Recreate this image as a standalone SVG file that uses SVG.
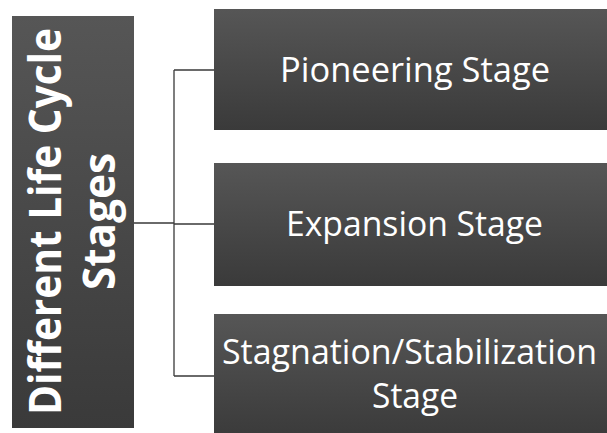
<svg xmlns="http://www.w3.org/2000/svg" width="607" height="433" viewBox="0 0 607 433">
<defs>
<linearGradient id="g" x1="0" y1="0" x2="0" y2="1">
<stop offset="0" stop-color="#565656"/>
<stop offset="1" stop-color="#3a3a3a"/>
</linearGradient>
<style>
.box{fill:url(#g);}
.t{font-family:"Open Sans","Noto Sans",sans-serif;fill:#ffffff;font-size:34px;text-anchor:middle;}
.tb{font-family:"Open Sans","Noto Sans",sans-serif;fill:#ffffff;font-size:45px;font-weight:bold;text-anchor:middle;}
.c{fill:none;stroke:#3a3a3a;stroke-width:1.3;}
</style>
</defs>
<rect width="607" height="433" fill="#ffffff"/>
<g id="connectors">
<path class="c" d="M134 223 H174 M174 70 V376 M174 70 H214 M174 224 H214 M174 376 H214"/>
</g>
<g id="root">
<rect class="box" x="12" y="16" width="122" height="412"/>
<text class="tb" transform="translate(61 221.5) rotate(-90)" textLength="387" lengthAdjust="spacingAndGlyphs">Different Life Cycle</text>
<text class="tb" transform="translate(115 221.5) rotate(-90)" textLength="137" lengthAdjust="spacingAndGlyphs">Stages</text>
</g>
<g id="pioneering">
<rect class="box" x="214" y="9" width="400" height="121"/>
<text class="t" x="415" y="82" textLength="270" lengthAdjust="spacingAndGlyphs">Pioneering Stage</text>
</g>
<g id="expansion">
<rect class="box" x="214" y="163" width="400" height="123"/>
<text class="t" x="414.5" y="236" textLength="257" lengthAdjust="spacingAndGlyphs">Expansion Stage</text>
</g>
<g id="stagnation">
<rect class="box" x="214" y="314" width="400" height="125"/>
<text class="t" x="409.5" y="364" textLength="375" lengthAdjust="spacingAndGlyphs">Stagnation/Stabilization</text>
<text class="t" x="415" y="408" textLength="86" lengthAdjust="spacingAndGlyphs">Stage</text>
</g>
</svg>
